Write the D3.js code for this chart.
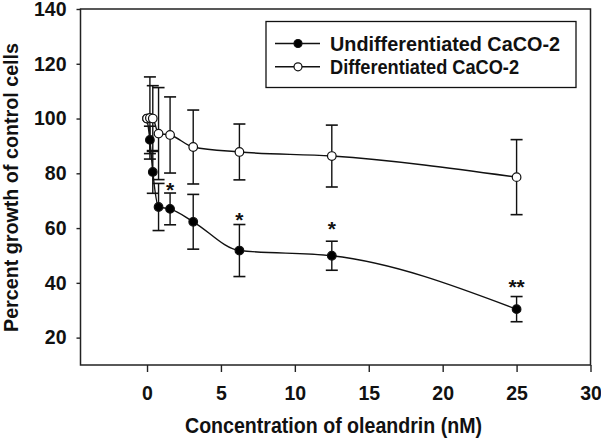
<!DOCTYPE html>
<html><head><meta charset="utf-8">
<script src="https://cdn.jsdelivr.net/npm/d3@7"></script>
<style>body{margin:0;background:#fff}svg{display:block}text{font-family:"Liberation Sans",Arial,sans-serif;font-weight:bold;fill:#111}</style>
</head><body>
<svg id="c" width="601" height="440"></svg>
<script>
const concentrations = [0, 0.195, 0.39, 0.78, 1.56, 3.125, 6.25, 12.5, 25];
const undiffValues = [100, 92.2, 80.5, 67.7, 67.0, 62.3, 51.8, 49.9, 30.4];
const undiffErrors = [0, 5, 7.8, 8.6, 5.8, 10, 9.5, 5.3, 4.6];
const diffValues = [100, 100.2, 100, 94.5, 94.0, 89.6, 87.8, 86.3, 78.6];
const diffErrors = [0, 15, 12, 16.8, 13.9, 13.5, 10.2, 11.3, 13.7];
const seriesNames = ["Undifferentiated CaCO-2", "Differentiated CaCO-2"];
const starX = [1.56, 6.25, 12.5, 25];
const starY = [75.4, 64.5, 61.5, 40];
const starLabels = ["*", "*", "*", "**"];
const xTicks = [0, 5, 10, 15, 20, 25, 30];
const yTicks = [20, 40, 60, 80, 100, 120, 140];
const xTitle = "Concentration of oleandrin (nM)";
const yTitle = "Percent growth of control cells";

const svg = d3.select("#c");
const x = d3.scaleLinear().domain([-4.5, 30]).range([80.5, 590.5]);
const y = d3.scaleLinear().domain([10, 140]).range([365, 9]);

// axes
const xAxis = svg.append("g").attr("transform", "translate(0,365)")
  .call(d3.axisBottom(x).tickValues(xTicks).tickSize(7).tickSizeOuter(0).tickPadding(14));
const yAxis = svg.append("g").attr("transform", "translate(80.5,0)")
  .call(d3.axisLeft(y).tickValues(yTicks).tickSize(4).tickSizeOuter(0).tickPadding(10));
[xAxis, yAxis].forEach(a => {
  a.selectAll("path").remove();
  a.selectAll("line").attr("stroke", "#222").attr("stroke-width", 1.4);
  a.selectAll("text").attr("font-size", 19.5).attr("fill", "#111");
});
// frame
svg.append("rect").attr("x", 80.5).attr("y", 9).attr("width", 510).attr("height", 356)
  .attr("fill", "none").attr("stroke", "#222").attr("stroke-width", 1.5);

// titles
svg.append("text").attr("x", 333.5).attr("y", 433).attr("text-anchor", "middle")
  .attr("font-size", 21.5).attr("textLength", 297).attr("lengthAdjust", "spacingAndGlyphs").text(xTitle);
svg.append("text").attr("transform", "translate(17.5,187.5) rotate(-90)").attr("text-anchor", "middle")
  .attr("font-size", 21).attr("textLength", 289).attr("lengthAdjust", "spacingAndGlyphs").text(yTitle);

const series = [
  {vals: undiffValues, errs: undiffErrors, fill: "#000"},
  {vals: diffValues, errs: diffErrors, fill: "#fff"}
];
const line = d3.line().x(d => x(d[0])).y(d => y(d[1])).curve(d3.curveMonotoneX);

series.forEach(s => {
  const g = svg.append("g");
  const pts = concentrations.map((c, i) => [c, s.vals[i], s.errs[i]]);
  pts.filter(p => p[2] > 0).forEach(p => {
    const cx = x(p[0]), t = y(p[1] + p[2]), b = y(p[1] - p[2]);
    g.append("line").attr("x1", cx).attr("x2", cx).attr("y1", t).attr("y2", b).attr("stroke", "#111").attr("stroke-width", 1.4);
    g.append("line").attr("x1", cx - 6).attr("x2", cx + 6).attr("y1", t).attr("y2", t).attr("stroke", "#111").attr("stroke-width", 1.6);
    g.append("line").attr("x1", cx - 6).attr("x2", cx + 6).attr("y1", b).attr("y2", b).attr("stroke", "#111").attr("stroke-width", 1.6);
  });
  g.append("path").datum(pts).attr("d", line).attr("fill", "none").attr("stroke", "#111").attr("stroke-width", 1.4);
});
series.forEach(s => {
  svg.append("g").selectAll("circle").data(concentrations.map((c, i) => [c, s.vals[i]]))
    .join("circle").attr("cx", d => x(d[0])).attr("cy", d => y(d[1])).attr("r", 4.3)
    .attr("fill", s.fill).attr("stroke", "#111").attr("stroke-width", 1.2);
});

// significance stars
svg.append("g").selectAll("text").data(starX.map((v, i) => [v, starY[i], starLabels[i]]))
  .join("text").attr("x", d => x(d[0])).attr("y", d => y(d[1])).attr("dy", "0.55em")
  .attr("text-anchor", "middle").attr("font-size", 21).text(d => d[2]);

// legend
const lg = svg.append("g");
lg.append("rect").attr("x", 266).attr("y", 21.5).attr("width", 310).attr("height", 66)
  .attr("fill", "#fff").attr("stroke", "#111").attr("stroke-width", 1.3);
seriesNames.forEach((name, i) => {
  const ry = 43.5 + i * 23.3;
  lg.append("line").attr("x1", 275).attr("x2", 320).attr("y1", ry).attr("y2", ry).attr("stroke", "#111").attr("stroke-width", 1.4);
  lg.append("circle").attr("cx", 298).attr("cy", ry).attr("r", 4).attr("fill", series[i].fill).attr("stroke", "#111").attr("stroke-width", 1.2);
  lg.append("text").attr("x", 330).attr("y", ry + 7.5).attr("font-size", 21)
    .attr("textLength", i === 0 ? 230 : 189).attr("lengthAdjust", "spacingAndGlyphs").text(name);
});
</script>
</body></html>
